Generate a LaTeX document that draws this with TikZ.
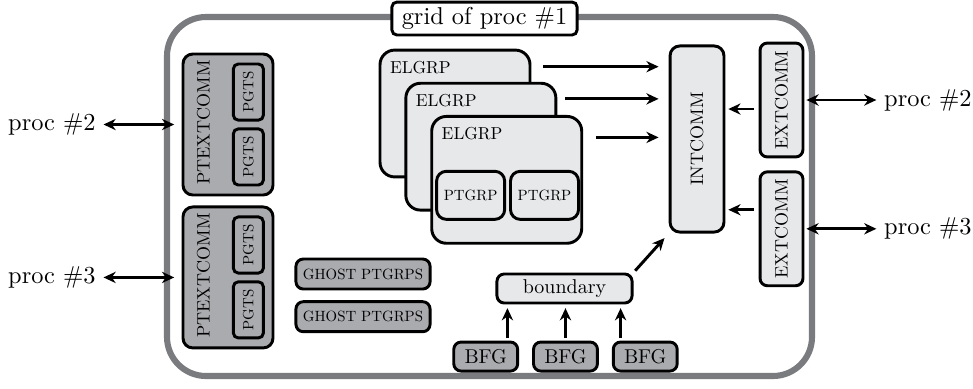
\documentclass[tikz,border=0pt]{standalone}
\usepackage{graphicx}
\usepackage{tikz}
\usetikzlibrary{positioning, arrows.meta}

\definecolor{lightfill}{RGB}{231,232,234}
\definecolor{darkfill}{RGB}{170,171,175}
\definecolor{framegray}{RGB}{122,123,127}

% scaled 10pt labels
\newcommand{\tinylbl}[1]{\scalebox{0.61}{#1}}
\newcommand{\smalllbl}[1]{\scalebox{0.74}{#1}}
\newcommand{\midlbl}[1]{\scalebox{0.82}{#1}}

\tikzset{
  box/.style={draw, line width=1.2pt, rounded corners=3pt, inner sep=0pt},
  darkbox/.style={box, fill=darkfill},
  lightbox/.style={box, fill=lightfill},
  arr/.style={-{Stealth[length=5pt, width=4.6pt, inset=1.6pt]}, line width=1.2pt},
  darr/.style={{Stealth[length=5pt, width=4.6pt, inset=1.6pt]}-{Stealth[length=5pt,
      width=4.6pt, inset=1.6pt]}, line width=1.2pt},
}

\begin{document}
\begin{tikzpicture}[x=0.41pt, y=-0.41pt]
    \useasboundingbox (0,0) rectangle (973,388);%

    % Grid frame
    \draw [line width=2.5pt, color=framegray, rounded corners=16pt] (167,17)
    rectangle (812,376);%
    \node [box, fill=white, rounded corners=2pt, minimum width=75.9pt,
    minimum height=13.5pt] (Title) at (484.5,18.5) {grid of proc \#1};%

    % PTEXTCOMM
    \node [darkbox, rounded corners=4pt, minimum width=36.9pt, minimum
    height=57.8pt] (PTCa) at (228,124.5) {};%
    \node [rotate=90] at ([xshift=9pt, yshift=0.8pt]PTCa.west)
    {\smalllbl{PTEXTCOMM}};%
    \node [darkbox, rounded corners=2pt, minimum width=12.3pt, minimum
    height=23pt] (PGa) at ([xshift=-10.7pt, yshift=13.3pt]PTCa.east)
    {\rotatebox{90}{\tinylbl{PGTS}}};%
    \node [darkbox, rounded corners=2pt, minimum width=12.3pt, minimum
    height=23pt] (PGb) at ([xshift=-10.7pt, yshift=-13.3pt]PTCa.east)
    {\rotatebox{90}{\tinylbl{PGTS}}};%
    % -- second one
    \node [darkbox, rounded corners=4pt, minimum width=36.9pt, minimum
    height=57.8pt, below=3.7pt of PTCa] (PTCb) {};%
    \node [rotate=90] at ([xshift=9pt, yshift=0.8pt]PTCb.west)
    {\smalllbl{PTEXTCOMM}};%
    \node [darkbox, rounded corners=2pt, minimum width=12.3pt, minimum
    height=23pt] (PGc) at ([xshift=-10.7pt, yshift=13.3pt]PTCb.east)
    {\rotatebox{90}{\tinylbl{PGTS}}};%
    \node [darkbox, rounded corners=2pt, minimum width=12.3pt, minimum
    height=23pt] (PGd) at ([xshift=-10.7pt, yshift=-13.3pt]PTCb.east)
    {\rotatebox{90}{\tinylbl{PGTS}}};%

    % Ghosts
    \node [darkbox, minimum width=55pt, minimum height=12.3pt] (GHa)
    at (363,274) {\tinylbl{GHOST PTGRPS}};%
    \node [darkbox, minimum width=55pt, minimum height=12.3pt,
    below=4pt of GHa] (GHb) {\tinylbl{GHOST PTGRPS}};%

    % ELGRPs
    \node [lightbox, rounded corners=6pt, minimum width=61.5pt, minimum
    height=52pt] (E1) at (455,113.5) {};%
    \node [anchor=north west, inner sep=0pt] at ([xshift=4.5pt,
    yshift=-4.9pt]E1.north west) {\scalebox{0.71}{ELGRP}};%
    \node [lightbox, rounded corners=6pt, minimum width=61.5pt, minimum
    height=52pt] (E2) at ([xshift=10.6pt, yshift=-13.6pt]E1.center) {};%
    \node [anchor=north west, inner sep=0pt] at ([xshift=4.5pt,
    yshift=-4.9pt]E2.north west) {\scalebox{0.71}{ELGRP}};%
    \node [lightbox, rounded corners=6pt, minimum width=61.5pt, minimum
    height=52pt] (E3) at ([xshift=10.6pt, yshift=-13.6pt]E2.center) {};%
    \node [anchor=north west, inner sep=0pt] at ([xshift=4.5pt,
    yshift=-4.9pt]E3.north west) {\scalebox{0.71}{ELGRP}};%
    % -- PTGRPs
    \node [lightbox, rounded corners=4pt, minimum width=27.9pt, minimum
    height=19.7pt, anchor=south west] (PTGa) at ([xshift=2pt,
    yshift=9.8pt]E3.south west) {\tinylbl{PTGRP}};%
    \node [lightbox, rounded corners=4pt, minimum width=27.9pt, minimum
    height=19.7pt, right=1.2pt of PTGa] (PTGb) {\tinylbl{PTGRP}};%

    % INTCOMM & EXTCOMM
    \node [lightbox, rounded corners=4pt, minimum width=22.1pt, minimum
    height=76.3pt] (INTC) at (697,139) {\rotatebox{90}{\smalllbl{INTCOMM}}};%
    \node [lightbox, rounded corners=3pt, minimum width=17.6pt, minimum
    height=46.7pt] (EXTa) at (781.5,100) {\rotatebox{90}{\smalllbl{EXTCOMM}}};%
    \node [lightbox, rounded corners=3pt, minimum width=17.6pt, minimum
    height=46.7pt, below=4.9pt of EXTa] (EXTb)
    {\rotatebox{90}{\smalllbl{EXTCOMM}}};%

    % Boundary & BFGs
    \node [lightbox, minimum width=55.4pt, minimum height=11.9pt]
    (Bnd) at (564.5,288.5) {\midlbl{boundary}};%
    \node [darkbox, minimum width=26.2pt, minimum height=11.9pt,
    below=14.8pt of Bnd, xshift=0.4pt] (BFGb) {\midlbl{BFG}};%
    \node [darkbox, minimum width=26.2pt, minimum height=11.9pt,
    left=5.3pt of BFGb] (BFGa) {\midlbl{BFG}};%
    \node [darkbox, minimum width=26.2pt, minimum height=11.9pt,
    right=5.3pt of BFGb] (BFGc) {\midlbl{BFG}};%

    % procs
    \node [left=32pt of PTCa.west, inner sep=3pt] (P2l) {proc \#2};%
    \node [left=32pt of PTCb.west, inner sep=3pt] (P3l) {proc \#3};%
    \node [right=29.5pt of EXTa.east, inner sep=3pt] (P2r) {proc \#2};%
    \node [right=29.5pt of EXTb.east, inner sep=3pt] (P3r) {proc \#3};%

    % arrows
    \coordinate (E1o) at ([xshift=4.9pt, yshift=-7.4pt]E1.north east);%
    \coordinate (E2o) at ([xshift=3.2pt, yshift=-7pt]E2.north east);%
    \coordinate (E3o) at ([xshift=5.3pt, yshift=-9.2pt]E3.north east);%
    \draw [arr, shorten >=4.1pt] (E1o) -- (E1o -| INTC.west);%
    \draw [arr, shorten >=4.1pt] (E2o) -- (E2o -| INTC.west);%
    \draw [arr, shorten >=4.1pt] (E3o) -- (E3o -| INTC.west);%
    \coordinate (Xa) at ([xshift=-2pt, yshift=-3.7pt]EXTa.west);%
    \coordinate (Xb) at ([xshift=-2pt, yshift=7.8pt]EXTb.west);%
    \draw [arr, shorten >=1.2pt] (Xa) -- (Xa -| INTC.east);%
    \draw [arr, shorten >=1.2pt] (Xb) -- (Xb -| INTC.east);%
    \draw [darr] (P2l.east) -- ([xshift=-3pt]PTCa.west);%
    \draw [darr] (P3l.east) -- ([xshift=-3pt]PTCb.west);%
    \draw [darr, shorten <=0.8pt] (EXTa.east) -- (P2r.west);%
    \draw [darr, shorten <=0.8pt] (EXTb.east) -- (P3r.west);%
    \coordinate (Ba) at ([xshift=4.9pt]Bnd.south west);%
    \coordinate (Bc) at ([xshift=-5.3pt]Bnd.south east);%
    \draw [arr, shorten <=1pt, shorten >=1.5pt] (BFGa.north -| Ba) -- (Ba);%
    \draw [arr, shorten <=1pt, shorten >=1.5pt] (BFGb.north) -- (BFGb.north
    |- Bnd.south);%
    \draw [arr, shorten <=1pt, shorten >=1.5pt] (BFGc.north -| Bc) -- (Bc);%
    \draw [arr, shorten <=1pt, shorten >=2.5pt] (Bnd.north east) --
    (INTC.south west);%
  \end{tikzpicture}
\end{document}
